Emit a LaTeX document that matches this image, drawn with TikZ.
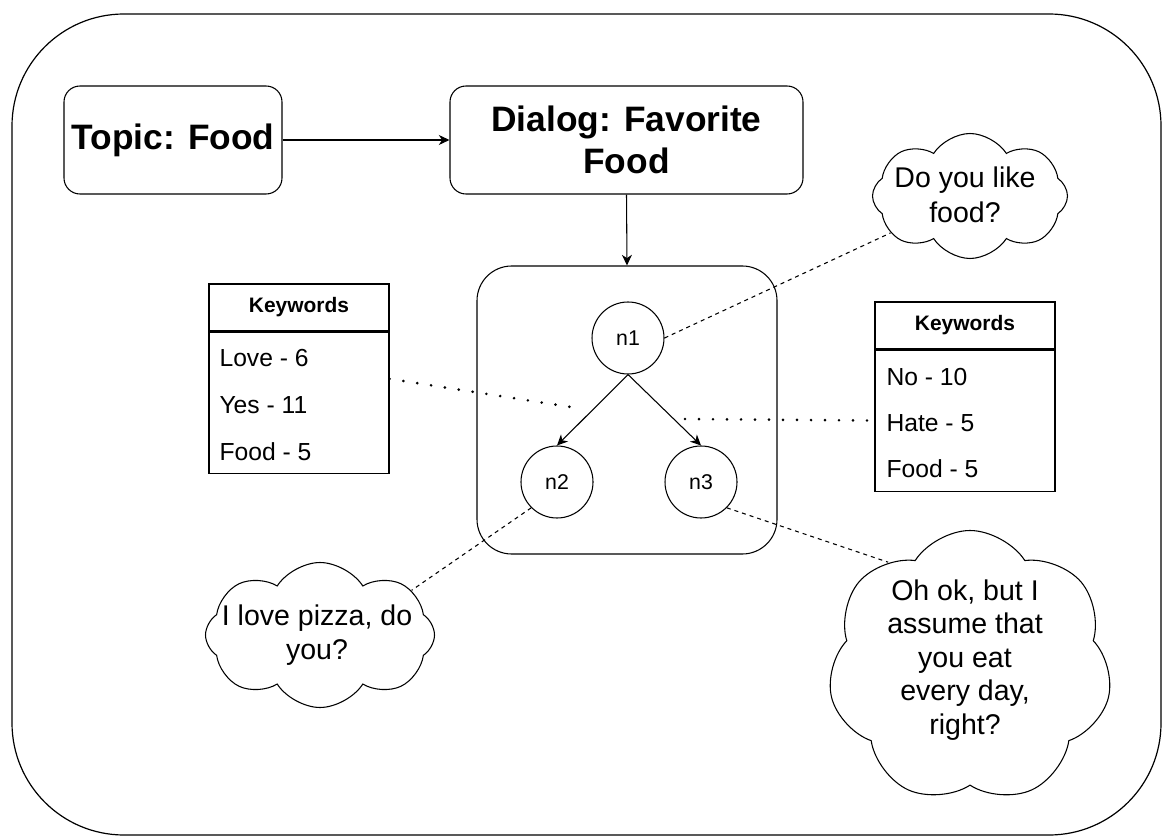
\documentclass[tikz,border=0pt]{standalone}
\usepackage{fontspec}
\setmainfont{Liberation Sans}
\usepackage{tikz}
\usetikzlibrary{positioning,arrows.meta,shapes.symbols,calc}

\begin{document}
\begin{tikzpicture}[x=0.75pt, y=-0.75pt, line width=0.8pt,
  box/.style={draw, rounded corners=12pt, align=center, inner sep=0pt,
    font=\fontsize{26.5}{31.5}\selectfont\bfseries},
  state/.style={draw, circle, minimum size=54pt, inner sep=0pt,
    font=\fontsize{16}{18}\selectfont},
  kwhead/.style={draw, minimum width=135pt, minimum height=35.25pt, inner sep=0pt,
    font=\fontsize{15.7}{18}\selectfont\bfseries},
  kwbody/.style={draw, minimum width=135pt, minimum height=105.75pt, inner sep=0pt},
  kwrow/.style={anchor=west, inner sep=0pt, font=\fontsize{18.5}{22}\selectfont},
  bubble/.style={draw, cloud, cloud puffs=8, cloud puff arc=115,
    cloud ignores aspect, inner sep=0pt},
  saying/.style={align=center, inner sep=0pt, font=\fontsize{21.4}{26}\selectfont},
  flow/.style={-{Stealth[length=8pt, width=7.5pt, inset=2.5pt]}},
  hint/.style={dash pattern=on 3pt off 3pt},
  link/.style={line width=2.2pt, line cap=round, dash pattern=on 0pt off 10.5pt}]
  \useasboundingbox (0,0) rectangle (1173,837);
  \draw[rounded corners=84pt, line width=0.9pt] (12,14) rectangle (1161,835);

  % topic and dialog
  \node[box, minimum width=163.5pt, minimum height=81pt] (topic) at (173,140) {Topic: Food};
  \node[box, minimum width=264.75pt, minimum height=81pt] (dialog) at (626.5,140)
       {Dialog: Favorite\\Food};
  \draw[flow] (topic.east) -- (dialog.west);

  % dialog graph
  \node[draw, rounded corners=26pt, minimum width=225pt, minimum height=216pt] (graph)
       at (627,410) {};
  \draw[flow] (dialog.south) -- (graph.north);
  \node[state] (n1) at (628,338) {n1};
  \node[state] (n2) at (557,482) {n2};
  \node[state] (n3) at (701,482) {n3};
  \draw[flow] (n1.south) -- (n2.north);
  \draw[flow] (n1.south) -- (n3.north);

  % keyword tables
  \node[kwhead] (kwLhead) at (299,307.5) {Keywords};
  \node[kwbody, below=0pt of kwLhead] (kwLbody) {};
  \node[kwrow] (kl1) at (219,358) {Love - 6};
  \node[kwrow] (kl2) at (219,405) {Yes - 11};
  \node[kwrow] (kl3) at (219,452) {Food - 5};
  \node[kwhead] (kwRhead) at (965,325.5) {Keywords};
  \node[kwbody, below=0pt of kwRhead] (kwRbody) {};
  \node[kwrow] (kr1) at (886,377) {No - 10};
  \node[kwrow] (kr2) at (886,423) {Hate - 5};
  \node[kwrow] (kr3) at (886,469) {Food - 5};
  \coordinate (tipL) at (577,408);
  \coordinate (tipR) at (685,419);
  \draw[link] ($(kwLbody.north east)!0.333!(kwLbody.south east)$) -- (tipL);
  \draw[link] (tipR) -- (kwRbody.west);

  % replies
  \node[bubble, minimum width=146.25pt, minimum height=93.75pt] (c1) at (970,196) {};
  \node[saying] (s1) at (965,195) {Do you like\\food?};
  \node[bubble, minimum width=171.75pt, minimum height=108.75pt] (c2) at (320,635) {};
  \node[saying] (s2) at (317,635) {I love pizza, do\\you?};
  \node[bubble, cloud puffs=7, minimum width=213pt, minimum height=204.75pt] (c3)
       at (970,667) {};
  \node[saying, font=\fontsize{21.4}{25.2}\selectfont] (s3) at (965,660)
       {Oh ok, but I\\assume that\\you eat\\every day,\\right?};
  \draw[hint] (n1.east) -- (c1);
  \draw[hint] (n2.225) -- (c2.26);
  \draw[hint] (n3.-45) -- (c3.128);
\end{tikzpicture}
\end{document}
